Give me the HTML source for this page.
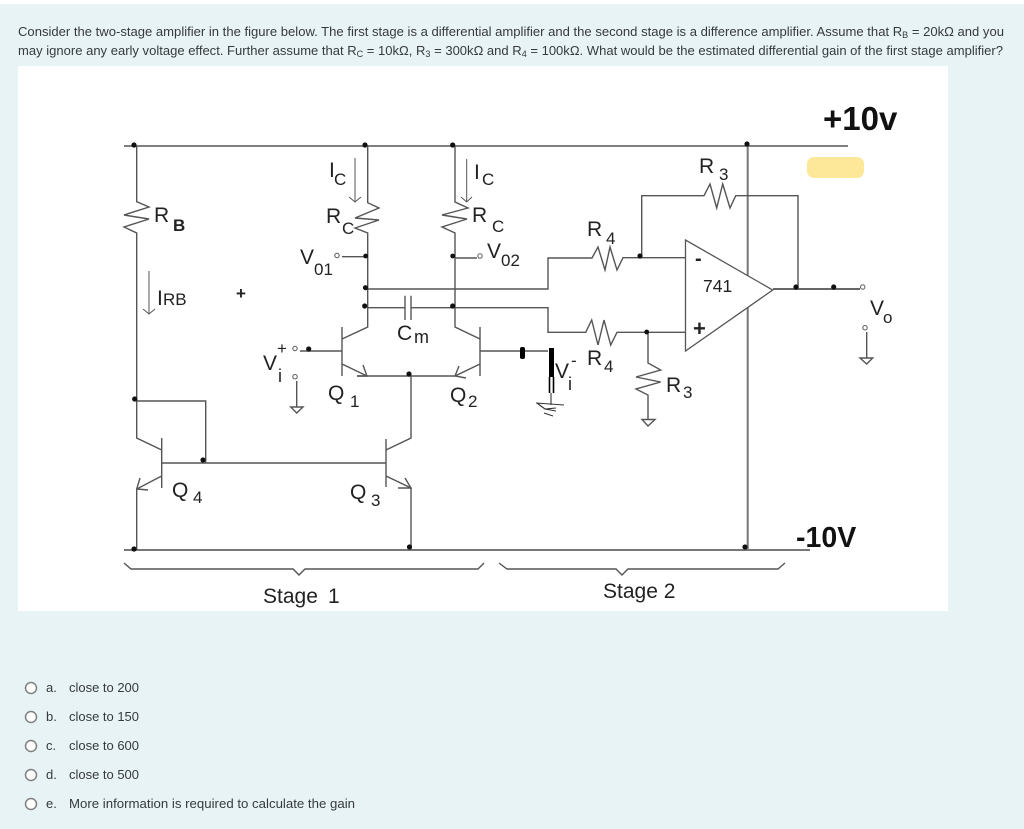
<!DOCTYPE html>
<html><head><meta charset="utf-8"><style>
html,body{margin:0;padding:0;background:#fff}
svg{display:block}
.q{font-family:"Liberation Sans",sans-serif;font-size:13px;fill:#373a3c}
.l{font-family:"Liberation Sans",sans-serif;font-size:21px;fill:#222}
.s{font-size:17px}
.w{fill:none;stroke:#555;stroke-width:1.4}
.d{fill:#111}
.c{fill:#fff;stroke:#555;stroke-width:1}
</style></head><body>
<svg width="1024" height="829" viewBox="0 0 1024 829" xmlns="http://www.w3.org/2000/svg">
<rect x="0" y="4" width="1024" height="825" fill="#e7f3f5"/>
<rect x="18" y="66" width="930" height="545" fill="#fff"/>

<text class="q" x="18" y="36" textLength="986" lengthAdjust="spacingAndGlyphs">Consider the two-stage amplifier in the figure below. The first stage is a differential amplifier and the second stage is a difference amplifier. Assume that R<tspan font-size="9" dy="2">B</tspan><tspan dy="-2"> = 20kΩ and you</tspan></text>
<text class="q" x="18" y="55" textLength="985" lengthAdjust="spacingAndGlyphs">may ignore any early voltage effect. Further assume that R<tspan font-size="9" dy="2">C</tspan><tspan dy="-2"> = 10kΩ, R</tspan><tspan font-size="9" dy="2">3</tspan><tspan dy="-2"> = 300kΩ and R</tspan><tspan font-size="9" dy="2">4</tspan><tspan dy="-2"> = 100kΩ. What would be the estimated differential gain of the first stage amplifier?</tspan></text>

<rect x="807" y="157" width="57" height="21" rx="7" fill="#fde89a"/>

<!-- rails -->
<path class="w" d="M124 146H848"/>
<path class="w" style="stroke-width:2;stroke:#777" d="M124 550H810M747.7 146V550"/>
<!-- RB branch + Q4 -->
<path class="w" d="M136.7 146V201.7L149 207L124 215L149 219L124 227L136.7 233V438L161.7 450"/>
<path class="w" d="M136.7 401H205.7V463M161.7 438V488M161.7 463H386M386 439V487M386 450L411 438V376M386 476L411 488V550M161.7 476L136.7 489V550"/>
<path class="w" d="M140 478L136.7 489L148 490M398 488L411 488L405 478"/>
<!-- RC left + Q1 -->
<path class="w" d="M367.7 146V202.7L379 208L355 218L379 220L355 228L367.7 233V327L342 339M342 327V376M342 351H300M342 364L367 376M357 376H455L480 364M480 327V376M480 339L455 327V233L442 227L467 219L442 215L468 208L455 202V146"/>
<path class="w" d="M363 365L367 376L357 376M459 366L455 376L466 378"/>
<!-- outputs -->
<path class="w" d="M342 256.7H367.7M455 258H477M480 351H548"/>
<!-- differential lines -->
<path class="w" d="M367 289H548V258H592L598 247L605 270L610 247L617 270L623 257.7H685.7M641.7 257.7V195.7H704L710 184L716.7 208L722.7 184L730 208L735.7 195.7H798V289"/>
<path class="w" d="M367 307.7H405M411 307.7H548V332.3H585.7L591.7 320L598 345L604 320L610.7 345L617 332.3H685.7M405 295.7V320M411 295.7V320"/>
<path class="w" d="M648 332.3V363L660.7 370L636 377L660.7 382L636 389L648 395V419M642 419.5H655L648 426Z"/>
<!-- op amp -->
<path d="M685.5 240L685.5 351L772.7 290Z" fill="#fff" stroke="#555" stroke-width="1.3"/>
<path class="w" style="stroke-width:2;stroke:#666" d="M773 289H860"/>
<path class="w" d="M866.7 332V358M860 358H872.7L866.7 364Z"/>
<!-- vi ground -->
<path class="w" d="M296.7 381V407M290.7 407H303L296.7 413Z"/>
<!-- brace -->
<path class="w" d="M124 563L131 569H293L299 575L305 569H478L484 563M499 563L507 569H616L622 575L628 569H778L785 563"/>
<!-- current arrows -->
<path class="w" style="stroke-width:1" d="M355 158V202M349 197L355 202L361 197M466.7 159V202M461 197L466.7 202L472 197M149 271V314M143 309L149 314L155 309"/>
<!-- dots -->
<circle class="d" cx="134" cy="145" r="2.6"/><circle class="d" cx="365" cy="145" r="2.6"/><circle class="d" cx="452.7" cy="145" r="2.6"/><circle class="d" cx="747" cy="144" r="2.6"/>
<circle class="d" cx="365.7" cy="256" r="2.4"/><circle class="d" cx="365.5" cy="287.7" r="2.6"/><circle class="d" cx="364.7" cy="306" r="2.6"/><circle class="d" cx="452.7" cy="256" r="2.4"/><circle class="d" cx="452.7" cy="306" r="2.6"/>
<circle class="d" cx="308.7" cy="349" r="2.6"/><circle class="d" cx="409" cy="374" r="2.6"/><circle class="d" cx="134.7" cy="399" r="2.6"/><circle class="d" cx="203" cy="460" r="2.6"/>
<circle class="d" cx="134" cy="549" r="2.6"/><circle class="d" cx="409.5" cy="547" r="2.6"/><circle class="d" cx="745" cy="547" r="2.6"/>
<circle class="d" cx="640" cy="256" r="2.6"/><circle class="d" cx="646.7" cy="332" r="2.4"/><circle class="d" cx="796" cy="287" r="2.6"/><circle class="d" cx="833.7" cy="287" r="2.6"/>
<circle class="c" cx="337" cy="255.5" r="2.2"/><circle class="c" cx="480" cy="256" r="2.2"/><circle class="c" cx="295" cy="348.5" r="2.2"/><circle class="c" cx="295" cy="376.7" r="2.2"/><circle class="c" cx="862.7" cy="287" r="2.2"/><circle class="c" cx="865" cy="327.7" r="2.2"/>
<!-- hand-drawn marks -->
<rect x="520" y="347" width="5" height="12" rx="2" fill="#000"/>
<rect x="549" y="348" width="5" height="29" fill="#000"/>
<path d="M549.5 377V393M553.5 377V393" stroke="#000" stroke-width="1.6" fill="none"/>
<path d="M551 393V405M536 403L564 405M537 403L545 409L556 408M545 409L556 411M544 413L553 416" fill="none" stroke="#333" stroke-width="1.1"/>

<!-- labels -->
<text class="l" x="154" y="222">R</text><text x="173" y="231" font-family="Liberation Sans" font-size="17" font-weight="bold" fill="#222">B</text>
<text class="l" x="329" y="177">I</text><text class="l s" x="334" y="185">C</text>
<text class="l" x="326" y="223">R</text><text class="l s" x="342" y="234">C</text>
<text class="l" x="300" y="264">V</text><text class="l s" x="314" y="275">01</text>
<text class="l" x="157" y="305">I</text><text class="l s" x="163" y="305">RB</text>
<text class="l" style="font-size:17px;font-weight:bold" x="236" y="299">+</text>
<text class="l" x="397" y="340">C</text><text class="l" style="font-size:18px" x="414" y="343">m</text>
<text class="l" x="263" y="370">V</text><text class="l" style="font-size:17px" x="277" y="354">+</text><text class="l" style="font-size:18px" x="278" y="382">i</text>
<text class="l" x="328" y="400">Q</text><text class="l s" x="350" y="407">1</text>
<text class="l" x="450" y="402">Q</text><text class="l s" x="468" y="407">2</text>
<text class="l" x="172" y="497">Q</text><text class="l s" x="193" y="503">4</text>
<text class="l" x="350" y="499">Q</text><text class="l s" x="371" y="506">3</text>
<text class="l" x="474" y="179">I</text><text class="l s" x="482" y="185">C</text>
<text class="l" x="472" y="222">R</text><text class="l s" x="492" y="232">C</text>
<text class="l" x="487" y="258">V</text><text class="l s" x="501" y="266">02</text>
<text class="l" x="587" y="236">R</text><text class="l s" x="606" y="244">4</text>
<text class="l" x="699" y="173">R</text><text class="l s" x="719" y="180">3</text>
<text class="l" x="587" y="365">R</text><text class="l s" x="604" y="372">4</text>
<text class="l" x="555" y="378">V</text><text class="l" style="font-size:17px" x="571" y="366">-</text><text class="l" style="font-size:18px" x="568" y="390">i</text>
<text class="l" x="666" y="392">R</text><text class="l s" x="683" y="398">3</text>
<text class="l" style="font-size:17.5px" x="703" y="292">741</text>
<text class="l" style="font-size:22px;font-weight:bold" x="693" y="336">+</text>
<text class="l" style="font-size:20px;font-weight:bold" x="695" y="265">-</text>
<text class="l" x="870" y="315">V</text><text class="l s" x="883" y="323">o</text>
<text x="823" y="130" font-family="Liberation Sans" font-size="33" font-weight="bold" fill="#111">+10v</text>
<text x="796" y="547" font-family="Liberation Sans" font-size="28.5" font-weight="bold" fill="#111">-10V</text>
<text class="l" x="263" y="603">Stage</text><text class="l" x="328" y="603">1</text>
<text class="l" x="603" y="598">Stage 2</text>

<!-- options -->
<g fill="#fff" stroke="#808080" stroke-width="1.5">
<circle cx="31" cy="688" r="5.5"/><circle cx="31" cy="717" r="5.5"/><circle cx="31" cy="746" r="5.5"/><circle cx="31" cy="775" r="5.5"/><circle cx="31" cy="804" r="5.5"/>
</g>
<text class="q" x="46" y="692">a.</text><text class="q" x="69" y="692" textLength="70" lengthAdjust="spacingAndGlyphs">close to 200</text>
<text class="q" x="46" y="721">b.</text><text class="q" x="69" y="721" textLength="70" lengthAdjust="spacingAndGlyphs">close to 150</text>
<text class="q" x="46" y="750">c.</text><text class="q" x="69" y="750" textLength="70" lengthAdjust="spacingAndGlyphs">close to 600</text>
<text class="q" x="46" y="779">d.</text><text class="q" x="69" y="779" textLength="70" lengthAdjust="spacingAndGlyphs">close to 500</text>
<text class="q" x="46" y="808">e.</text><text class="q" x="69" y="808" textLength="286" lengthAdjust="spacingAndGlyphs">More information is required to calculate the gain</text>
</svg>
</body></html>
